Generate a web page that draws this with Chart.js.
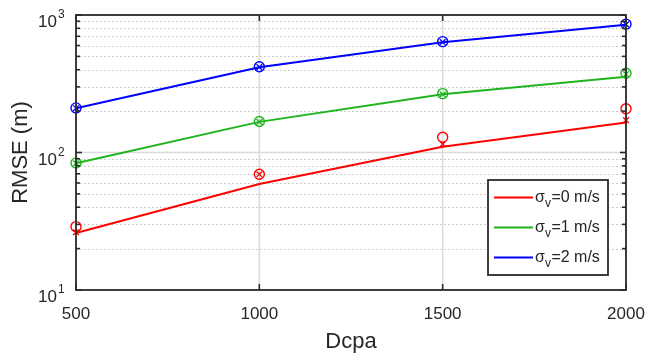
<!DOCTYPE html>
<html><head><meta charset="utf-8">
<script src="https://cdn.jsdelivr.net/npm/chart.js@4/dist/chart.umd.min.js"></script>
<style>html,body{margin:0;padding:0;background:#fff;} #c{display:block;}</style>
</head><body>
<canvas id="c" width="649" height="361"></canvas>
<script>
// ---- data ----
const dcpa = [500, 1000, 1500, 2000];
const xTicks = [500, 1000, 1500, 2000];
const yTicks = [10, 100, 1000];
const yExponents = ['1', '2', '3'];
const sigmaV = ['0', '1', '2'];
// sigma_v = 0 m/s
const curve0 = [26, 59, 110, 165];
const circ0  = [28.9, 69.4, 129, 208];
const cross0 = [26.3, 69.4, 115, 172];
// sigma_v = 1 m/s
const curve1 = [83.5, 167, 265, 355];
const circ1  = [84, 168, 268, 377];
const cross1 = [83.5, 167, 265, 372];
// sigma_v = 2 m/s
const curve2 = [210, 417, 633, 850];
const circ2  = [211, 420, 640, 858];
const cross2 = [210, 418, 636, 855];

const colors = ['#ff0000', '#1eb41e', '#0000ff'];
const curves = [curve0, curve1, curve2];
const circs = [circ0, circ1, circ2];
const crosses = [cross0, cross1, cross2];

const minorVals = [];
[10, 100].forEach(d => { for (let k = 2; k <= 9; k++) minorVals.push(d * k); });

const pts = arr => arr.map((v, i) => ({ x: dcpa[i], y: v }));

const datasets = [];
for (let i = 0; i < 3; i++) {
  datasets.push({ label: 'curve' + i, data: pts(curves[i]), borderColor: colors[i], borderWidth: 2,
    pointRadius: 0, fill: false, tension: 0, clip: false });
  datasets.push({ label: 'circ' + i, data: pts(circs[i]), showLine: false, pointStyle: 'circle',
    pointRadius: 5, borderColor: colors[i], pointBorderColor: colors[i], pointBackgroundColor: 'rgba(0,0,0,0)',
    pointBorderWidth: 1.4, clip: false });
  datasets.push({ label: 'cross' + i, data: pts(crosses[i]), showLine: false, pointStyle: 'crossRot',
    pointRadius: 4, borderColor: colors[i], pointBorderColor: colors[i], pointBorderWidth: 1.3, clip: false });
}

const TXT = '#262626';
const FONT = '"Liberation Sans", Arial, Helvetica, sans-serif';

const framePlugin = {
  id: 'frame',
  beforeDatasetsDraw(chart) {
    const { ctx, chartArea: a, scales: { x, y } } = chart;
    ctx.save();
    ctx.strokeStyle = '#bdbdbd'; ctx.lineWidth = 1; ctx.setLineDash([1.5, 2.5]);
    minorVals.forEach(v => {
      const py = Math.round(y.getPixelForValue(v)) + 0.5;
      ctx.beginPath(); ctx.moveTo(a.left, py); ctx.lineTo(a.right, py); ctx.stroke();
    });
    ctx.setLineDash([]);
    ctx.strokeStyle = '#dadada'; ctx.lineWidth = 1.5;
    xTicks.slice(1, -1).forEach(v => {
      const px = x.getPixelForValue(v);
      ctx.beginPath(); ctx.moveTo(px, a.top); ctx.lineTo(px, a.bottom); ctx.stroke();
    });
    yTicks.slice(1, -1).forEach(v => {
      const py = y.getPixelForValue(v);
      ctx.beginPath(); ctx.moveTo(a.left, py); ctx.lineTo(a.right, py); ctx.stroke();
    });
    ctx.restore();
  },
  afterDatasetsDraw(chart) {
    const { ctx, chartArea: a, scales: { x, y } } = chart;
    ctx.save();
    ctx.strokeStyle = '#2a2a2a'; ctx.lineWidth = 1.8;
    ctx.strokeRect(a.left, a.top, a.right - a.left, a.bottom - a.top);
    ctx.lineWidth = 1.6;
    const tick = (x1, y1, x2, y2) => { ctx.beginPath(); ctx.moveTo(x1, y1); ctx.lineTo(x2, y2); ctx.stroke(); };
    minorVals.forEach(v => {
      const py = y.getPixelForValue(v);
      tick(a.left, py, a.left + 4, py); tick(a.right, py, a.right - 4, py);
    });
    yTicks.forEach(v => {
      const py = y.getPixelForValue(v);
      tick(a.left, py, a.left + 6, py); tick(a.right, py, a.right - 6, py);
    });
    xTicks.forEach(v => {
      const px = x.getPixelForValue(v);
      tick(px, a.top, px, a.top + 6); tick(px, a.bottom, px, a.bottom - 6);
    });
    // y tick labels 10^n
    ctx.fillStyle = TXT;
    yTicks.forEach((v, i) => {
      const py = y.getPixelForValue(v);
      ctx.font = '17px ' + FONT; ctx.textAlign = 'right'; ctx.textBaseline = 'alphabetic';
      ctx.fillText('10', a.left - 19, py + 12);
      ctx.font = '12px ' + FONT; ctx.textAlign = 'left';
      ctx.fillText(yExponents[i], a.left - 18, py + 3);
    });
    ctx.restore();
  },
  afterDraw(chart) {
    const { ctx, chartArea: a } = chart;
    ctx.save();
    const w = 120, h = 95;
    const L = a.right - 18 - w, T = a.bottom - 15 - h;
    ctx.fillStyle = '#fff'; ctx.fillRect(L, T, w, h);
    ctx.strokeStyle = '#2a2a2a'; ctx.lineWidth = 1.8; ctx.strokeRect(L, T, w, h);
    for (let i = 0; i < 3; i++) {
      const ry = T + 17.5 + i * 30;
      ctx.strokeStyle = colors[i]; ctx.lineWidth = 2;
      ctx.beginPath(); ctx.moveTo(L + 6, ry); ctx.lineTo(L + 45, ry); ctx.stroke();
      ctx.fillStyle = TXT; ctx.textAlign = 'left';
      let cx = L + 47;
      ctx.font = '16px ' + FONT; ctx.textBaseline = 'middle';
      ctx.fillText('σ', cx, ry); cx += ctx.measureText('σ').width;
      ctx.font = '12px ' + FONT; ctx.textBaseline = 'alphabetic';
      ctx.fillText('v', cx, ry + 9.5); cx += ctx.measureText('v').width + 0.5;
      ctx.font = '16px ' + FONT; ctx.textBaseline = 'middle';
      ctx.fillText('=' + sigmaV[i] + ' m/s', cx, ry);
    }
    ctx.restore();
  }
};

new Chart(document.getElementById('c'), {
  type: 'line',
  data: { datasets },
  options: {
    responsive: false, animation: false, devicePixelRatio: 1,
    layout: { padding: { top: 15, right: 23, left: 0, bottom: 0 } },
    plugins: { legend: { display: false }, tooltip: { enabled: false } },
    scales: {
      x: {
        type: 'linear', min: 500, max: 2000,
        afterBuildTicks: s => { s.ticks = xTicks.map(v => ({ value: v })); },
        afterFit: s => { s.height = 71; s.paddingLeft = 0; s.paddingRight = 0; },
        grid: { display: false }, border: { display: false },
        ticks: { color: TXT, font: { size: 17, family: FONT }, padding: 6, maxRotation: 0,
          callback: v => String(v) },
        title: { display: true, text: 'Dcpa', color: TXT, font: { size: 22, family: FONT }, padding: { top: 0, bottom: 6 } }
      },
      y: {
        type: 'logarithmic', min: 10, max: 1000,
        afterBuildTicks: s => { s.ticks = yTicks.map(v => ({ value: v })); },
        afterFit: s => { s.width = 76; },
        grid: { display: false }, border: { display: false },
        ticks: { display: false },
        title: { display: true, text: 'RMSE (m)', color: TXT, font: { size: 22, family: FONT }, padding: { top: 8, bottom: 0 } }
      }
    }
  },
  plugins: [framePlugin]
});
</script>
</body></html>
